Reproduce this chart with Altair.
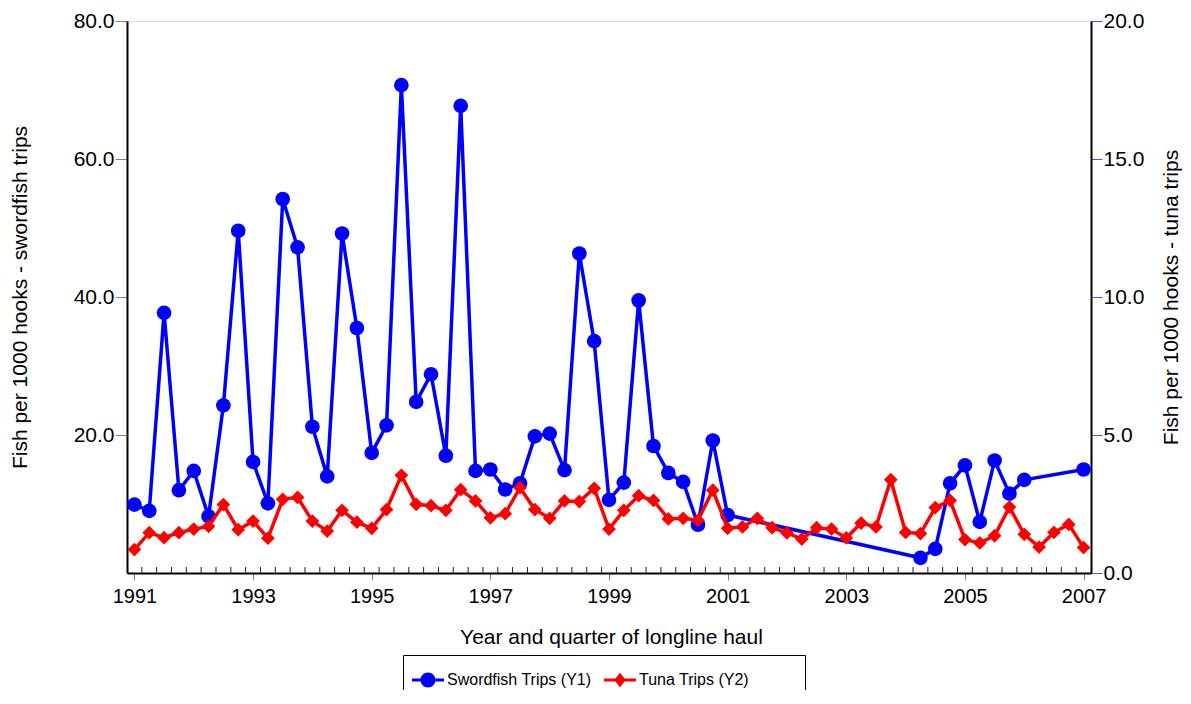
import altair as alt
import pandas as pd

# ---------------- data ----------------
sword_quarters = [
    1991.0, 1991.25, 1991.5, 1991.75, 1992.0, 1992.25, 1992.5, 1992.75,
    1993.0, 1993.25, 1993.5, 1993.75, 1994.0, 1994.25, 1994.5, 1994.75,
    1995.0, 1995.25, 1995.5, 1995.75, 1996.0, 1996.25, 1996.5, 1996.75,
    1997.0, 1997.25, 1997.5, 1997.75, 1998.0, 1998.25, 1998.5, 1998.75,
    1999.0, 1999.25, 1999.5, 1999.75, 2000.0, 2000.25, 2000.5, 2000.75,
    2001.0, 2004.25, 2004.5, 2004.75, 2005.0, 2005.25, 2005.5, 2005.75,
    2006.0, 2007.0,
]
sword_values = [
    9.9, 9.0, 37.7, 12.0, 14.8, 8.2, 24.3, 49.6,
    16.1, 10.1, 54.2, 47.2, 21.2, 14.0, 49.2, 35.5,
    17.4, 21.4, 70.7, 24.8, 28.8, 17.0, 67.7, 14.8,
    15.0, 12.1, 13.0, 19.8, 20.2, 14.9, 46.3, 33.6,
    10.6, 13.1, 39.5, 18.4, 14.5, 13.2, 7.0, 19.2,
    8.4, 2.2, 3.5, 13.0, 15.6, 7.4, 16.3, 11.5,
    13.5, 15.0,
]
tuna_quarters = [
    1991.0, 1991.25, 1991.5, 1991.75, 1992.0, 1992.25, 1992.5, 1992.75,
    1993.0, 1993.25, 1993.5, 1993.75, 1994.0, 1994.25, 1994.5, 1994.75,
    1995.0, 1995.25, 1995.5, 1995.75, 1996.0, 1996.25, 1996.5, 1996.75,
    1997.0, 1997.25, 1997.5, 1997.75, 1998.0, 1998.25, 1998.5, 1998.75,
    1999.0, 1999.25, 1999.5, 1999.75, 2000.0, 2000.25, 2000.5, 2000.75,
    2001.0, 2001.25, 2001.5, 2001.75, 2002.0, 2002.25, 2002.5, 2002.75,
    2003.0, 2003.25, 2003.5, 2003.75, 2004.0, 2004.25, 2004.5, 2004.75,
    2005.0, 2005.25, 2005.5, 2005.75, 2006.0, 2006.25, 2006.5, 2006.75,
    2007.0,
]
tuna_values = [
    0.85, 1.46, 1.28, 1.46, 1.59, 1.69, 2.48, 1.57,
    1.88, 1.26, 2.67, 2.74, 1.88, 1.52, 2.27, 1.84,
    1.62, 2.30, 3.54, 2.49, 2.44, 2.27, 3.02, 2.61,
    2.00, 2.15, 3.09, 2.30, 1.98, 2.61, 2.59, 3.07,
    1.59, 2.27, 2.80, 2.63, 1.96, 1.98, 1.91, 3.00,
    1.62, 1.67, 1.98, 1.64, 1.45, 1.23, 1.64, 1.59,
    1.27, 1.81, 1.67, 3.38, 1.47, 1.43, 2.37, 2.63,
    1.21, 1.09, 1.35, 2.39, 1.40, 0.94, 1.47, 1.76,
    0.92,
]
year_labels = [1991, 1993, 1995, 1997, 1999, 2001, 2003, 2005, 2007]
left_ticks = [20, 40, 60, 80]
right_ticks = [0, 5, 10, 15, 20]
# quarter band boundaries (minor ticks on the time axis)
minor_ticks = [1991.125 + 0.25 * i for i in range(64)]
series_names = ["Swordfish Trips (Y1)", "Tuna Trips (Y2)"]
legend_spacer = "spacer"  # blank legend slot that widens the legend box

# ---------------- styling ----------------
FONT = "Liberation Sans"
BLUE = "#0000ff"
RED = "#ff0000"
W, H = 964, 552

sword_df = pd.DataFrame({"t": sword_quarters, "v": sword_values})
tuna_df = pd.DataFrame({"t": tuna_quarters, "v": tuna_values})
minor_df = pd.DataFrame({"t": minor_ticks})
legend_df = pd.DataFrame({"series": series_names})

x_scale = alt.Scale(domain=[1990.875, 2007.125], nice=False, zero=False)


def x_enc():
    return alt.X(
        "t:Q",
        scale=x_scale,
        axis=alt.Axis(
            values=year_labels, format="d", title="Year and quarter of longline haul",
            labelFont=FONT, labelFontSize=20, labelColor="black", labelPadding=6,
            labelFlush=False, labelOverlap=False,
            tickColor="#808080", tickSize=7, tickWidth=1,
            domainColor="black", domainWidth=2, grid=False,
            titleFont=FONT, titleFontSize=21, titleFontWeight="normal", titleColor="black",
            titleX=484, titleY=70, titleBaseline="alphabetic", titleAlign="center",
        ),
    )


left_axis = alt.Axis(
    orient="left", values=left_ticks, format=".1f",
    title="Fish per 1000 hooks - swordfish trips",
    labelFont=FONT, labelFontSize=21, labelColor="black", labelPadding=1,
    tickColor="#808080", tickSize=12, tickWidth=1,
    domainColor="black", domainWidth=2, grid=False,
    titleFont=FONT, titleFontSize=21, titleFontWeight="normal", titleColor="black",
    titleAngle=270, titleX=-101, titleY=276, titleBaseline="alphabetic", titleAlign="center",
)
right_axis = alt.Axis(
    orient="right", values=right_ticks, format=".1f",
    title="Fish per 1000 hooks - tuna trips",
    labelFont=FONT, labelFontSize=21, labelColor="black", labelPadding=1,
    tickColor="#9933cc", tickSize=11, tickWidth=1,
    domainColor="black", domainWidth=2, grid=False,
    titleFont=FONT, titleFontSize=21, titleFontWeight="normal", titleColor="black",
    titleAngle=270, titleX=86, titleY=276, titleBaseline="alphabetic", titleAlign="center",
)

y_left = alt.Y("v:Q", scale=alt.Scale(domain=[0, 80], nice=False), axis=left_axis)
y_right = alt.Y("v:Q", scale=alt.Scale(domain=[0, 20], nice=False), axis=right_axis)

sword_line = alt.Chart(sword_df).mark_line(color=BLUE, strokeWidth=3.5).encode(x=x_enc(), y=y_left)
sword_pts = alt.Chart(sword_df).mark_point(
    shape="circle", filled=True, size=215, color=BLUE, opacity=1
).encode(x=x_enc(), y=y_left)
sword = alt.layer(sword_line, sword_pts)

tuna_line = alt.Chart(tuna_df).mark_line(color=RED, strokeWidth=3.5).encode(x=x_enc(), y=y_right)
tuna_pts = alt.Chart(tuna_df).mark_point(
    shape="diamond", filled=True, size=190, color=RED, opacity=1
).encode(x=x_enc(), y=y_right)
tuna = alt.layer(tuna_line, tuna_pts)

minor = alt.Chart(minor_df).mark_rule(color="#222222", strokeWidth=1).encode(
    x=x_enc(), y=alt.value(H - 6), y2=alt.value(H)
)

# legend symbols: line segment with marker (unit coordinates, scaled by symbolSize)
sword_sym = (
    "M-1,-0.1H-0.44V0.1H-1Z M0.44,-0.1H1V0.1H0.44Z "
    "M-0.47,0A0.47,0.47,0,1,1,0.47,0A0.47,0.47,0,1,1,-0.47,0Z"
)
tuna_sym = (
    "M-1,-0.1H-0.3V0.1H-1Z M0.3,-0.1H1V0.1H0.3Z "
    "M0,-0.46L0.36,0L0,0.46L-0.36,0Z"
)
legend_domain = series_names + [legend_spacer]
legend = alt.Legend(
    title=None, orient="none", legendX=276, legendY=634,
    direction="horizontal", columns=3, columnPadding=12,
    symbolSize=1024, symbolStrokeWidth=0, symbolOpacity=1,
    labelFont=FONT, labelFontSize=16, labelColor="black", labelOffset=3,
    labelExpr=f"datum.label == '{legend_spacer}' ? '' : datum.label",
    labelLimit=400,
    padding=9, strokeColor="black", fillColor="white",
)
legend_layer = alt.Chart(legend_df).mark_point(filled=True, opacity=1).encode(
    shape=alt.Shape("series:N", scale=alt.Scale(domain=legend_domain, range=[sword_sym, tuna_sym, "M0,0"]), legend=legend),
    color=alt.Color("series:N", scale=alt.Scale(domain=legend_domain, range=[BLUE, RED, "rgba(0,0,0,0)"]), legend=legend),
).transform_filter("datum.series == 'none'")

chart = (
    alt.layer(sword, tuna, minor, legend_layer)
    .resolve_scale(y="independent")
    .properties(
        width=W, height=H,
        padding={"left": 119, "top": 13, "right": 92, "bottom": 117},
        autosize=alt.AutoSizeParams(type="none"),
    )
    .configure_view(stroke="#555555", strokeWidth=1)
    .configure(background="white")
)

chart.save("out.html", embed_options={"renderer": "svg", "actions": False})
